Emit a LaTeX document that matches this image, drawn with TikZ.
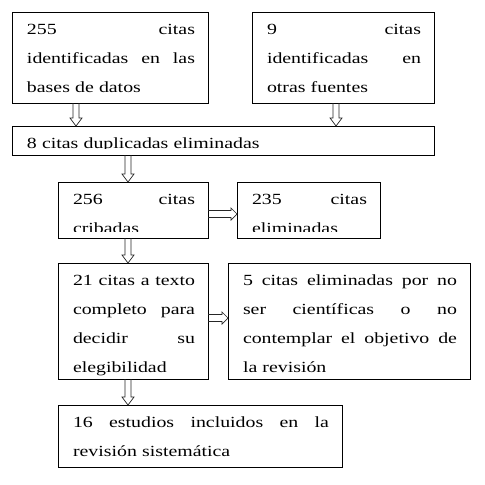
\documentclass[tikz,border=0pt]{standalone}
\usepackage{fontspec}
\setmainfont{Liberation Serif}[FakeStretch=1.28]
\usetikzlibrary{calc}
\tikzset{
  box/.style={draw, line width=1pt, anchor=north west, inner sep=0pt, outer sep=0pt},
  txt/.style={anchor=north west, inner sep=0pt, outer sep=0pt, align=left,
              font=\fontsize{15.5}{29}\selectfont},
  harrow/.style={draw=black!85, line width=0.7pt, line join=miter}
}
% hollow down arrow: #1 gives x, #2 start y, #3 end y
\newcommand\arrowdown[3]{\draw[harrow] let \p1=#1, \p2=#2, \p3=#3 in
  (\x1-3pt,\y2) -- (\x1-3pt,\y3+8pt) -- (\x1-6pt,\y3+8pt) -- (\x1,\y3)
  -- (\x1+6pt,\y3+8pt) -- (\x1+3pt,\y3+8pt) -- (\x1+3pt,\y2);}
% hollow right arrow: #1 gives y, #2 start x, #3 end x
\newcommand\arrowright[3]{\draw[harrow] let \p1=#1, \p2=#2, \p3=#3 in
  (\x2,\y1+3.5pt) -- (\x3-6pt,\y1+3.5pt) -- (\x3-6pt,\y1+6pt) -- (\x3,\y1)
  -- (\x3-6pt,\y1-6pt) -- (\x3-6pt,\y1-3.5pt) -- (\x2,\y1-3.5pt);}
\begin{document}
\begin{tikzpicture}[x=1pt,y=1pt]
\useasboundingbox (0,0) rectangle (485,-485);
% boxes
\node[box, minimum width=196pt, minimum height=91pt]  (A) at (12,-12)  {};
\node[box, minimum width=182pt, minimum height=91pt]  (B) at (252,-12) {};
\node[box, minimum width=422pt, minimum height=29pt]  (C) at (12,-126) {};
\node[box, minimum width=150pt, minimum height=56pt]  (D) at (58,-182) {};
\node[box, minimum width=143pt, minimum height=56pt]  (E) at (237,-182) {};
\node[box, minimum width=150pt, minimum height=116pt] (F) at (58,-263) {};
\node[box, minimum width=242pt, minimum height=116pt] (G) at (228,-263) {};
\node[box, minimum width=284pt, minimum height=62pt]  (H) at (58,-405) {};
% texts
\node[txt, text width=168pt] (tA) at ($(A.north west)+(15,-1.7)$)
  {\strut 255\hfill citas\\ identificadas\hfill en\hfill las\\ bases de datos};
\node[txt, text width=154pt] (tB) at ($(B.north west)+(15,-1.7)$)
  {\strut 9\hfill citas\\ identificadas\hfill en\\ otras fuentes};
\begin{scope}
  \clip (C.north west) rectangle ($(C.south east)+(0,7)$);
  \node[txt, text width=394pt] (tC) at ($(C.north west)+(15,-1.7)$)
    {\strut 8 citas duplicadas eliminadas};
\end{scope}
\begin{scope}
  \clip (D.north west) rectangle ($(D.south east)+(0,6.5)$);
  \node[txt, text width=122pt] (tD) at ($(D.north west)+(15,-1.7)$)
    {\strut 256\hfill citas\\ cribadas};
\end{scope}
\begin{scope}
  \clip (E.north west) rectangle ($(E.south east)+(0,6.5)$);
  \node[txt, text width=115pt] (tE) at ($(E.north west)+(15,-1.7)$)
    {\strut 235\hfill citas\\ eliminadas};
\end{scope}
\node[txt, text width=122pt] (tF) at ($(F.north west)+(15,-1.7)$)
  {\strut 21\hfill citas\hfill a\hfill texto\\ completo\hfill para\\ decidir\hfill su\\ elegibilidad};
\node[txt, text width=214pt] (tG) at ($(G.north west)+(15,-1.7)$)
  {\strut 5\hfill citas\hfill eliminadas\hfill por\hfill no\\ ser\hfill científicas\hfill o\hfill no\\ contemplar\hfill el\hfill objetivo\hfill de\\ la revisión};
\node[txt, text width=256pt] (tH) at ($(H.north west)+(15,-1.7)$)
  {\strut 16\hfill estudios\hfill incluidos\hfill en\hfill la\\ revisión sistemática};
% arrows
\arrowdown{($(A.south west)+(64,0)$)}{(A.south)}{(C.north)}
\arrowdown{($(B.south west)+(84,0)$)}{(B.south)}{(C.north)}
\arrowdown{($(D.north west)+(70,0)$)}{(C.south)}{(D.north)}
\arrowdown{($(D.north west)+(70,0)$)}{(D.south)}{(F.north)}
\arrowdown{($(F.north west)+(70,0)$)}{(F.south)}{(H.north)}
\arrowright{($(D.north west)+(0,-32)$)}{(D.east)}{(E.west)}
\arrowright{($(F.north west)+(0,-55)$)}{(F.east)}{(G.west)}
\end{tikzpicture}
\end{document}
